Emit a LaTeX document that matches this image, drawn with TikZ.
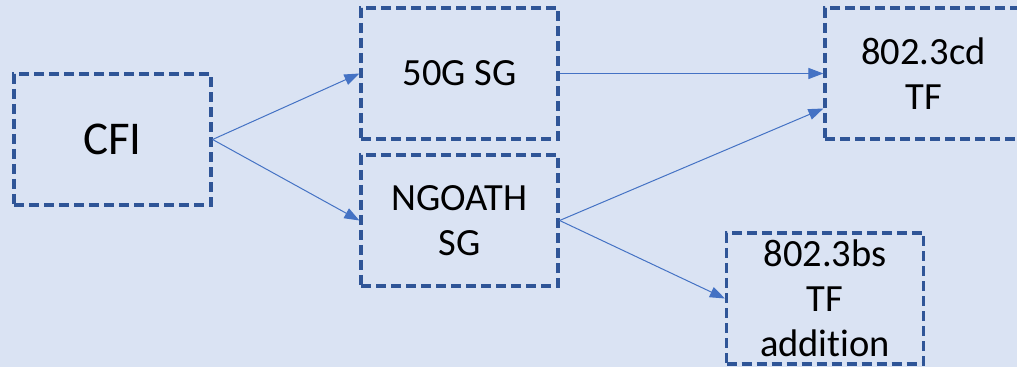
\documentclass[tikz,border=0pt]{standalone}
\usepackage{fontspec}
\setmainfont[Ligatures=NoCommon]{Carlito}
\usetikzlibrary{arrows.meta}
\definecolor{bg}{HTML}{DAE3F3}
\definecolor{boxline}{HTML}{2F5597}
\definecolor{arrowc}{HTML}{4472C4}
\tikzset{
  stagebox/.style={draw=boxline, line width=3.2pt, dash pattern=on 10pt off 5pt,
    minimum width=197pt, minimum height=131pt, inner sep=0pt, align=center,
    font=\fontsize{38.5}{45}\selectfont, text=black},
  link/.style={draw=arrowc, line width=1pt, -{Triangle[length=15pt,width=11pt]}}
}
\begin{document}
\begin{tikzpicture}[x=1pt,y=1pt]
\fill[bg] (0,0) rectangle (1017,367);
\useasboundingbox (0,0) rectangle (1017,367);
\clip (0,0) rectangle (1017,367);
\node[stagebox, font=\fontsize{47}{52}\selectfont] (cfi) at (112.5,227.5) {CFI};
\node[stagebox] (g50) at (459.5,293.5) {50G SG};
\node[stagebox] (ngoath) at (459.5,146.5) {NGOATH\\SG};
\node[stagebox] (cd) at (923.5,293.5) {802.3cd\\TF};
\node[stagebox] (bs) at (825,68.5) {802.3bs\\TF\\addition};
\draw[link] (cfi.east) -- (g50.west);
\draw[link] (cfi.east) -- (ngoath.west);
\draw[link] (g50.east) -- (cd.west);
\draw[link] (ngoath.east) -- ([yshift=-35pt]cd.west);
\draw[link] (ngoath.east) -- (bs.west);
\end{tikzpicture}
\end{document}
